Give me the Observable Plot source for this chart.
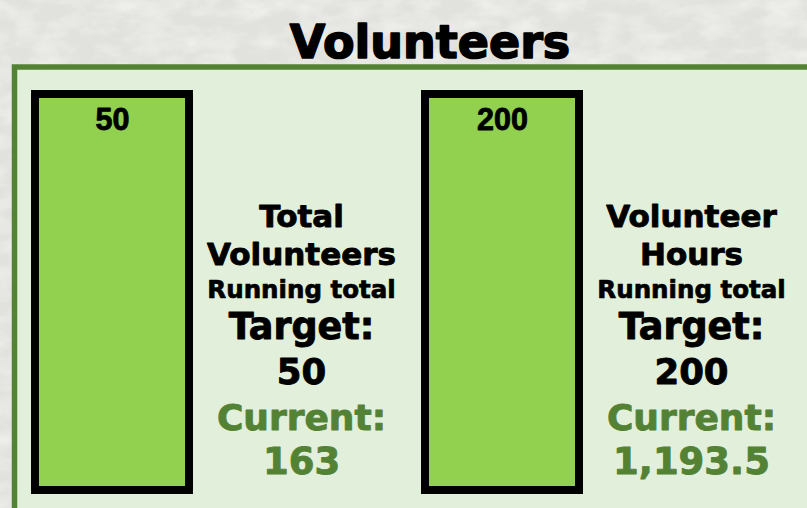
<!DOCTYPE html>
<html>
<head>
<meta charset="utf-8">
<script src="https://cdn.jsdelivr.net/npm/d3@7"></script>
<script src="https://cdn.jsdelivr.net/npm/@observablehq/plot@0.6"></script>
<style>
  html, body { margin: 0; padding: 0; overflow: hidden; background: #e2e3de; }
  #chart svg { display: block; }
</style>
</head>
<body>
<div id="chart"></div>
<script>
// ---- data ----
const chartTitle = "Volunteers";
const categories = ["Total Volunteers", "Volunteer Hours"];
const labelLine1 = ["Total", "Volunteer"];
const labelLine2 = ["Volunteers", "Hours"];
const subLabel = "Running total";
const targets = [50, 200];
const currents = [163, 1193.5];

const rows = categories.map((c, i) => ({
  category: c,
  line1: labelLine1[i],
  line2: labelLine2[i],
  sub: subLabel,
  target: targets[i],
  current: currents[i],
  progress: Math.min(currents[i] / targets[i], 1)
}));

// ---- styling ----
const GREEN_DARK = "#548235";
const PANEL = "#e2efda";
const BAR = "#92d050";
const FONT = "DejaVu Sans, sans-serif";
const TEXT_DX = 189;

const bgSvg = `<svg xmlns='http://www.w3.org/2000/svg' width='807' height='508'>
<filter id='n' x='0' y='0' width='100%' height='100%'>
<feTurbulence type='fractalNoise' baseFrequency='0.03 0.06' numOctaves='4' seed='7'/>
<feColorMatrix values='0 0 0 0 1  0 0 0 0 1  0 0 0 0 0.98  0 0 0 -2.0 1.3'/>
</filter>
<filter id='m' x='0' y='0' width='100%' height='100%'>
<feTurbulence type='fractalNoise' baseFrequency='0.05 0.1' numOctaves='3' seed='19'/>
<feColorMatrix values='0 0 0 0 0.78  0 0 0 0 0.8  0 0 0 0 0.74  0 0 0 -2.4 1.15'/>
</filter>
<rect width='100%' height='100%' fill='#e1e2dd'/>
<rect width='100%' height='100%' filter='url(#m)' opacity='0.18'/>
<rect width='100%' height='100%' filter='url(#n)' opacity='0.45'/>
</svg>`;
const bgUrl = `url("data:image/svg+xml,${encodeURIComponent(bgSvg)}")`;

const lineStyle = (field, size, baseline, color = "black", weight = 0.9) =>
  Plot.text(rows, {
    x: "category",
    text: field,
    frameAnchor: "top",
    lineAnchor: "bottom",
    dx: TEXT_DX,
    dy: baseline - 66.5,
    fontSize: size,
    fontWeight: "bold",
    fontFamily: FONT,
    fill: color,
    stroke: color,
    strokeWidth: weight
  });

const plot = Plot.plot({
  width: 807,
  height: 508,
  marginTop: 66.5,
  marginLeft: 14,
  marginRight: -10,
  marginBottom: -10,
  style: {
    background: bgUrl,
    overflow: "hidden"
  },
  x: {
    type: "band",
    domain: categories,
    range: [34.7, 579.7],
    paddingInner: 0.606,
    paddingOuter: 0,
    axis: null
  },
  y: {
    domain: [0, 1],
    range: [490, 94],
    axis: null
  },
  marks: [
    Plot.frame({fill: PANEL, stroke: GREEN_DARK, strokeWidth: 5.5}),
    Plot.text([chartTitle], {
      text: d => d,
      frameAnchor: "top",
      lineAnchor: "bottom",
      dx: 14,
      dy: -9.5,
      fontSize: 46,
      fontWeight: "bold",
      fontFamily: FONT,
      fill: "black",
      stroke: "black",
      strokeWidth: 1.6
    }),
    Plot.barY(rows, {
      x: "category",
      y: "progress",
      fill: BAR,
      stroke: "black",
      strokeWidth: 8
    }),
    Plot.text(rows, {
      x: "category",
      y: "progress",
      text: d => d3.format(",")(d.target),
      lineAnchor: "bottom",
      dy: 35,
      fontSize: 30.5,
      fontWeight: "bold",
      fontFamily: "Liberation Sans, Arial, sans-serif",
      fill: "black",
      stroke: "black",
      strokeWidth: 0.8
    }),
    lineStyle("line1", 31, 226),
    lineStyle("line2", 31, 264),
    lineStyle("sub", 24.5, 297, "black", 0.7),
    lineStyle(() => "Target:", 36.5, 338),
    lineStyle(d => d3.format(",")(d.target), 35.5, 383),
    lineStyle(() => "Current:", 36, 429, GREEN_DARK),
    lineStyle(d => d3.format(",")(d.current), 37, 473, GREEN_DARK)
  ]
});

document.getElementById("chart").appendChild(plot);
</script>
</body>
</html>
